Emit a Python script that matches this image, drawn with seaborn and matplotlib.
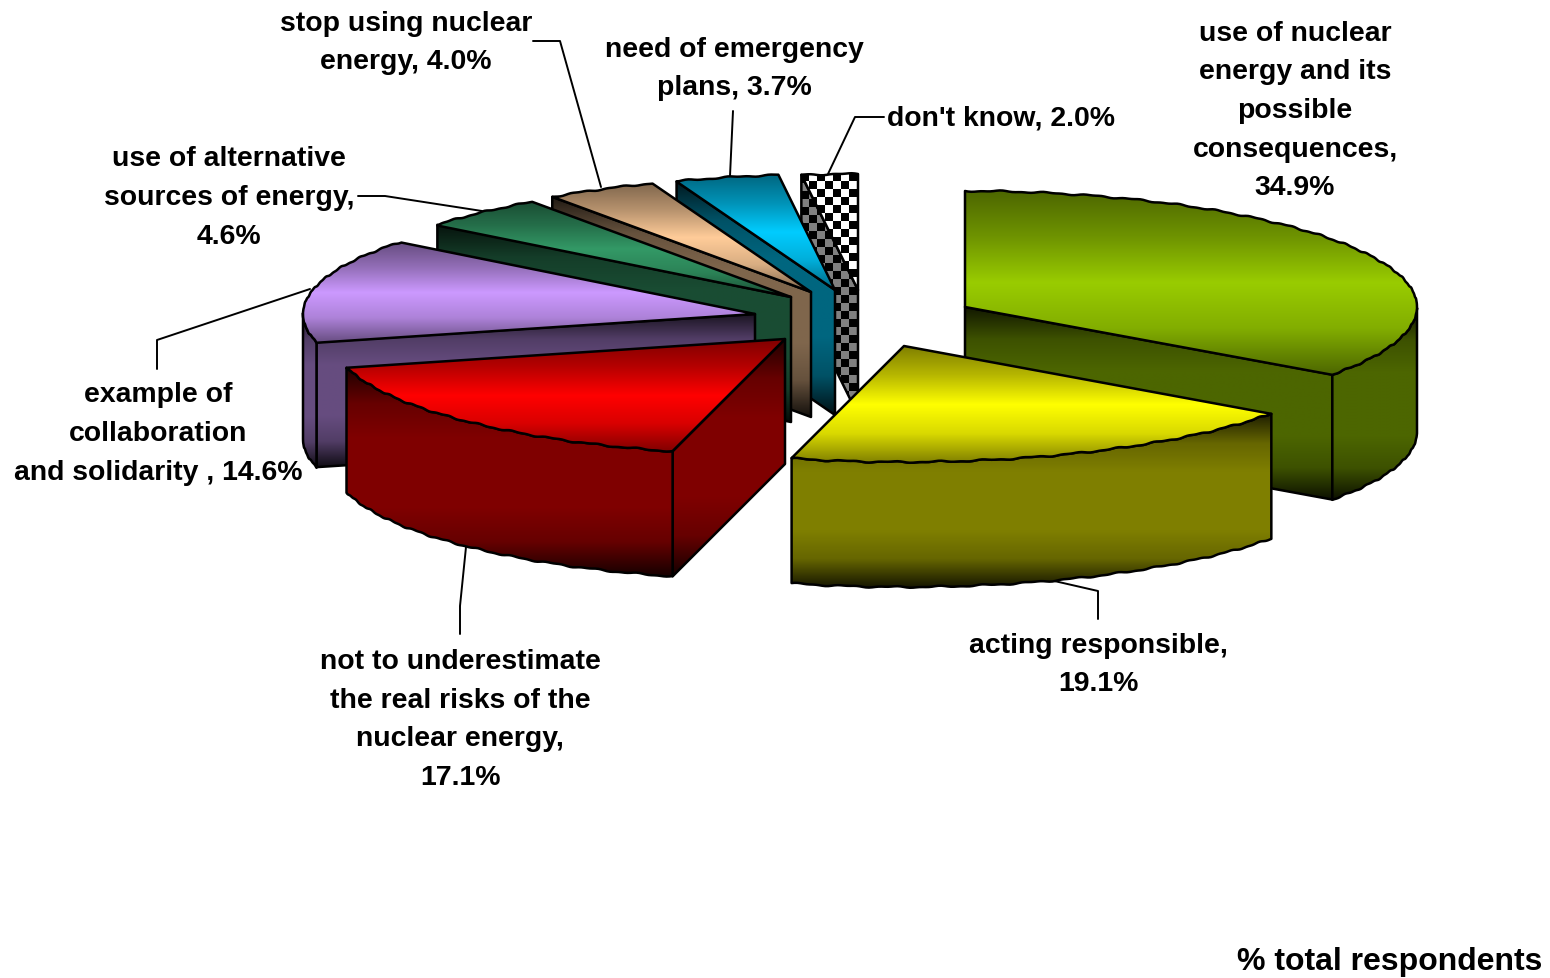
import numpy as np
import seaborn as sns
import matplotlib.pyplot as plt
from matplotlib.patches import Polygon

# chart data, clockwise from 12 o'clock
labels = [
    "use of nuclear\nenergy and its\npossible\nconsequences,\n34.9%",
    "acting responsible,\n19.1%",
    "not to underestimate\nthe real risks of the\nnuclear energy,\n17.1%",
    "example of\ncollaboration\nand solidarity , 14.6%",
    "use of alternative\nsources of energy,\n4.6%",
    "stop using nuclear\nenergy, 4.0%",
    "need of emergency\nplans, 3.7%",
    "don't know, 2.0%",
]
shares = [34.9, 19.1, 17.1, 14.6, 4.6, 4.0, 3.7, 2.0]
top_colors = ["#99CC00", "#FFFF00", "#FF0000", "#CC99FF", "#339966", "#FFCC99", "#00CCFF", None]
unit_label = "% total respondents"

# layout, in figure pixels
W, H = 1550, 979
RX, RY, DEPTH = 452, 116, 125
apex = [(965, 308), (904, 347), (785, 340), (755, 315), (791, 298), (811, 293), (835, 291), (858, 291)]
draw_order = [7, 6, 5, 4, 3, 0, 2, 1]
label_pos = [(1295, 111), (1098, 665), (460, 720), (158, 434), (229, 198), (406, 43), (734, 69), (1001, 118)]
leaders = [
    [(1098, 620), (1098, 592), (1050, 581)],
    [(460, 635), (460, 607), (466, 548)],
    [(157, 370), (157, 341), (310, 290)],
    [(358, 197), (385, 197), (482, 212)],
    [(533, 42), (560, 42), (601, 188)],
    [(733, 112), (730, 177)],
    [(884, 118), (855, 118), (828, 175)],
]

sns.set_theme(style="white")
plt.rcParams["font.family"] = ["Liberation Sans", "DejaVu Sans"]

fig = plt.figure(figsize=(W / 100, H / 100), dpi=100)
ax = fig.add_axes([0, 0, 1, 1])


def rim(i, t0, t1, drop=0):
    # slightly jagged ellipse arc, the original chart has a bumpy edge
    t = np.radians(np.arange(t0, t1, 0.4))
    t = np.append(t, np.radians(t1))
    bump = 0.6 * np.sin(t * 61) + 0.35 * np.sin(t * 137)
    x = apex[i][0] + RX * np.sin(t)
    y = apex[i][1] - RY * np.cos(t) + drop + bump
    return np.column_stack([x, y])


def point(i, t, drop=0):
    t = np.radians(t)
    return (apex[i][0] + RX * np.sin(t), apex[i][1] - RY * np.cos(t) + drop)


def faces_viewer(a, p, q):
    # a cut face shows when the rest of the slice lies above its top edge
    dx = p[0] - a[0]
    if abs(dx) < 1:
        return False
    line_y = a[1] + (p[1] - a[1]) * (q[0] - a[0]) / dx
    return q[1] < line_y


def fill_face(verts, image, cmap, z, vmin=0, vmax=1):
    verts = np.asarray(verts)
    x0, y0 = verts.min(axis=0)
    x1, y1 = verts.max(axis=0)
    poly = Polygon(verts, closed=True, fc="none", ec="black", lw=1.8, zorder=z + 0.5, joinstyle="round")
    ax.add_patch(poly)
    if image is None:
        image = np.linspace(0, 1, 256).reshape(-1, 1)
        extent = [x0, x1, y1, y0]
    else:
        # checker cells stay 8 px wide
        rows, cols = int((y1 - y0) // 8) + 1, int((x1 - x0) // 8) + 1
        yy, xx = np.indices((rows, cols))
        image = (yy + xx) % 2
        extent = [x0, x0 + cols * 8, y0 + rows * 8, y0]
    im = ax.imshow(image, extent=extent, aspect="auto", cmap=cmap, vmin=vmin, vmax=vmax,
                   zorder=z, interpolation="nearest" if image.shape[1] > 1 else "bilinear")
    im.set_clip_path(poly)


def dim(color, f):
    return tuple(c * f for c in plt.matplotlib.colors.to_rgb(color))


# =========================
# Slices
# =========================
angles = np.concatenate([[0], np.cumsum(shares) * 3.6])

for n, i in enumerate(draw_order):
    z = 10 + n * 3
    t0, t1 = angles[i], angles[i + 1]
    a = apex[i]
    col = top_colors[i]

    top = np.vstack([[a], rim(i, t0, t1)])
    mid = point(i, (t0 + t1) / 2)
    cut_faces = []
    for t in (t0, t1):
        if faces_viewer(a, point(i, t), mid):
            cut_faces.append([a, point(i, t), point(i, t, DEPTH), (a[0], a[1] + DEPTH)])

    # only the part of the outer wall facing the viewer
    w0, w1 = max(t0, 90), min(t1, 270)
    wall = None
    if w1 > w0:
        wall = np.vstack([rim(i, w0, w1), rim(i, w0, w1, DEPTH)[::-1]])

    if col is None:
        side_cmap = sns.blend_palette(["black", "#808080"], as_cmap=True)
        top_cmap = sns.blend_palette(["black", "white"], as_cmap=True)
        checks = np.zeros((2, 2))
        for face in cut_faces:
            fill_face(face, checks, side_cmap, z)
        fill_face(top, checks, top_cmap, z + 1)
        continue

    side_cmap = sns.blend_palette(
        [dim(col, 0.12), dim(col, 0.4), dim(col, 0.5), dim(col, 0.5), dim(col, 0.5), dim(col, 0.4), dim(col, 0.08)],
        as_cmap=True,
    )
    top_cmap = sns.blend_palette(
        [dim(col, 0.5), dim(col, 0.72), dim(col, 1.0), dim(col, 0.85), dim(col, 0.5)],
        as_cmap=True,
    )
    for face in cut_faces:
        fill_face(face, None, side_cmap, z)
    if wall is not None:
        fill_face(wall, None, side_cmap, z + 1)
    fill_face(top, None, top_cmap, z + 2)

# =========================
# Leader lines and labels
# =========================
for line in leaders:
    xs, ys = zip(*line)
    ax.plot(xs, ys, color="black", lw=1.4, zorder=5)

for text, (x, y) in zip(labels, label_pos):
    ax.text(x, y, text, ha="center", va="center", fontsize=20.4, fontweight="bold",
            color="black", linespacing=1.63, zorder=60)

ax.text(1390, 962, unit_label, ha="center", va="center", fontsize=23, fontweight="bold", color="black", zorder=60)

ax.set_xlim(0, W)
ax.set_ylim(H, 0)
ax.axis("off")

fig.savefig("out.png", dpi=100, facecolor="white")
